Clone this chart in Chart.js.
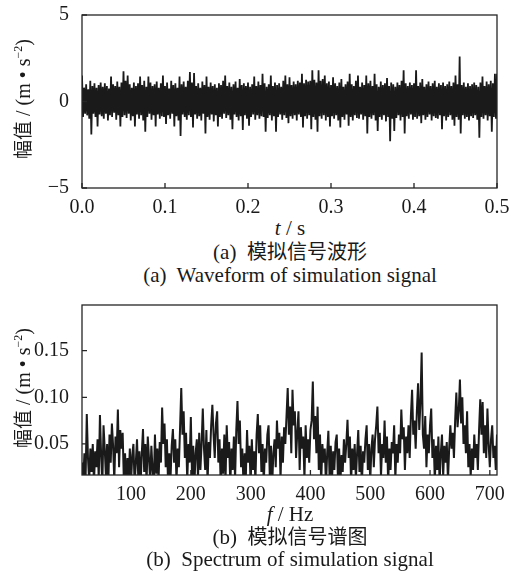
<!DOCTYPE html>
<html>
<head>
<meta charset="utf-8">
<script src="https://cdn.jsdelivr.net/npm/chart.js@4.4.1/dist/chart.umd.min.js"></script>
<style>
    body { margin: 0; background: #fff; }
    #page { position: relative; width: 521px; height: 583px; overflow: hidden;
            font-family: "Liberation Serif", "Noto Sans CJK SC", serif; color: #1a1a1a; }
    canvas { position: absolute; left: 0; }
    .txt { position: absolute; left: 290px; transform: translate(-50%, -50%);
           white-space: nowrap; font-size: 21px; line-height: 1; }
    .cn { font-family: "Noto Sans CJK SC", sans-serif; font-size: 20px; }
    .ylab { position: absolute; left: 22px; transform: translate(-50%, -50%) rotate(-90deg);
            white-space: nowrap; font-size: 20px; line-height: 1; }
    .ylab .cn { font-size: 19px; }
    .ylab sup { font-size: 12px; vertical-align: 8px; line-height: 0; }
</style>
</head>
<body>
<div id="page">
    <canvas id="waveChart" width="521" height="215" style="top:0px"></canvas>
    <canvas id="specChart" width="521" height="215" style="top:290px"></canvas>

    <div class="ylab" style="top:99px"><span class="cn">幅值</span> / (m • s<sup>−2</sup>)</div>
    <div class="txt" style="top:228px"><i>t</i> / s</div>
    <div class="txt" style="top:252px">(a)&nbsp; <span class="cn">模拟信号波形</span></div>
    <div class="txt" style="top:275px">(a)&nbsp; Waveform of simulation signal</div>

    <div class="ylab" style="top:388px"><span class="cn">幅值</span> / (m • s<sup>−2</sup>)</div>
    <div class="txt" style="top:514px"><i>f</i> / Hz</div>
    <div class="txt" style="top:537px">(b)&nbsp; <span class="cn">模拟信号谱图</span></div>
    <div class="txt" style="top:559px">(b)&nbsp; Spectrum of simulation signal</div>
</div>

<script>
// ---------------------------------------------------------------
// Data
// ---------------------------------------------------------------
const waveStep = 0.00125;          // s per sample
const waveTicks = [0, 0.1, 0.2, 0.3, 0.4, 0.5];
const waveAmpTicks = [-5, 0, 5];
const waveAmpLabels = ['−5', '0', '5'];

const waveValues = [
    1.5, -0.9, 0.8, -0.7, 1.0, -0.8, 0.7, -1.0, 1.2, -1.9, 0.9, -0.7, 1.05, -0.9, 0.8, -1.45, 0.95, -0.75, 1.1, -0.85,
    0.85, -1.0, 1.05, -0.7, 0.9, -1.1, 0.75, -0.8, 1.45, -0.9, 1.0, -0.65, 0.9, -1.05, 1.15, -0.8, 0.85, -1.45, 1.1, -0.9,
    1.75, -0.8, 1.2, -0.95, 1.5, -0.7, 1.0, -1.1, 0.8, -0.85, 1.1, -1.45, 0.9, -0.75, 1.05, -1.0, 1.45, -0.8, 0.95, -1.1,
    1.2, -1.75, 0.85, -0.9, 1.45, -0.7, 1.1, -1.05, 0.9, -0.8, 1.0, -1.45, 1.15, -0.75, 0.8, -1.0, 1.05, -0.85, 1.5, -0.9,
    0.9, -1.3, 1.1, -0.8, 0.75, -1.0, 1.2, -0.7, 0.95, -1.45, 1.05, -0.85, 0.8, -1.1, 1.45, -2.0, 1.0, -0.75, 1.15, -0.9,
    0.85, -1.05, 1.2, -0.8, 1.7, -0.9, 1.1, -1.5, 1.65, -0.75, 0.9, -1.0, 1.05, -0.85, 0.8, -1.1, 1.15, -0.7, 0.95, -1.85,
    1.45, -0.9, 0.85, -1.05, 1.1, -0.75, 0.9, -1.15, 1.0, -0.8, 0.8, -1.45, 1.05, -0.9, 0.95, -1.0, 1.2, -0.7, 1.5, -0.95,
    0.9, -0.8, 1.1, -1.05, 0.85, -1.6, 1.0, -0.75, 1.15, -0.9, 0.8, -1.1, 1.3, -0.85, 0.95, -1.65, 1.05, -0.8, 0.9, -1.0,
    1.1, -1.4, 0.85, -0.9, 1.0, -0.75, 1.45, -1.05, 0.9, -0.8, 1.15, -1.0, 0.95, -0.85, 1.6, -0.9, 1.05, -1.75, 0.85, -0.95,
    1.0, -0.8, 1.5, -1.1, 0.9, -0.85, 1.1, -1.75, 0.95, -0.9, 1.05, -0.75, 0.85, -1.05, 1.2, -0.8, 1.5, -0.95, 1.0, -1.25,
    1.4, -0.85, 0.95, -1.0, 1.15, -0.8, 1.0, -1.1, 1.2, -0.75, 1.1, -0.9, 1.6, -1.5, 1.05, -0.85, 1.25, -1.0, 1.15, -0.8,
    1.2, -1.6, 1.8, -0.9, 1.25, -1.05, 1.1, -1.75, 1.8, -0.85, 1.2, -1.0, 1.3, -0.8, 1.5, -1.1, 1.05, -0.9, 1.15, -1.45,
    0.95, -0.85, 1.4, -1.0, 1.05, -0.8, 0.9, -1.1, 1.1, -1.5, 1.3, -0.9, 0.85, -1.05, 1.0, -0.75, 1.15, -1.4, 1.6, -0.9,
    1.0, -1.1, 0.9, -0.8, 1.2, -0.95, 1.5, -1.0, 0.85, -0.75, 1.1, -1.05, 0.95, -0.85, 1.5, -1.85, 1.05, -0.9, 1.2, -1.0,
    0.9, -0.8, 1.6, -1.1, 1.0, -1.7, 0.85, -0.9, 1.15, -1.05, 0.95, -0.8, 1.05, -1.15, 1.35, -0.9, 0.9, -2.3, 1.1, -1.0,
    1.0, -1.7, 0.85, -0.95, 1.1, -0.8, 0.95, -1.1, 1.2, -0.9, 1.8, -1.85, 1.05, -0.85, 0.9, -1.0, 1.1, -0.75, 0.95, -1.05,
    1.05, -0.9, 1.8, -1.0, 0.9, -0.85, 1.1, -1.25, 1.3, -0.8, 0.85, -1.05, 1.0, -0.9, 1.15, -0.75, 0.9, -1.1, 1.05, -0.85,
    1.2, -0.95, 0.85, -1.0, 1.05, -0.8, 0.95, -1.6, 1.1, -0.85, 0.9, -1.1, 1.0, -0.9, 1.15, -0.8, 0.9, -1.05, 1.1, -1.4,
    1.5, -0.9, 1.0, -1.05, 2.6, -1.85, 0.95, -0.8, 1.1, -1.0, 0.85, -0.9, 1.05, -1.1, 0.9, -0.85, 1.0, -0.95, 1.1, -0.8,
    0.95, -1.05, 0.85, -2.1, 1.1, -0.9, 1.45, -1.0, 0.9, -0.8, 1.15, -1.1, 1.0, -0.85, 1.2, -1.75, 1.05, -0.9, 1.6, -1.0,
    1.6
];

const specStart = 18;              // Hz, first bin shown
const specStep = 2;                // Hz per bin
const specTicks = [100, 200, 300, 400, 500, 600, 700];
const specAmpTicks = [0.05, 0.10, 0.15];

const specValues = [
    0.030, 0.008, 0.040, 0.012, 0.082, 0.035, 0.010, 0.045, 0.020, 0.050,
    0.008, 0.042, 0.025, 0.055, 0.012, 0.081, 0.038, 0.005, 0.070, 0.045,
    0.015, 0.050, 0.006, 0.060, 0.030, 0.072, 0.048, 0.010, 0.058, 0.040,
    0.087, 0.025, 0.065, 0.045, 0.062, 0.010, 0.040, 0.004, 0.035, 0.012,
    0.045, 0.008, 0.038, 0.050, 0.005, 0.030, 0.055, 0.015, 0.042, 0.006,
    0.040, 0.066, 0.020, 0.050, 0.008, 0.058, 0.035, 0.010, 0.048, 0.022,
    0.006, 0.060, 0.018, 0.045, 0.010, 0.052, 0.030, 0.089, 0.050, 0.072,
    0.025, 0.055, 0.005, 0.040, 0.012, 0.048, 0.066, 0.030, 0.055, 0.010,
    0.045, 0.025, 0.068, 0.110, 0.060, 0.085, 0.035, 0.062, 0.010, 0.050,
    0.030, 0.079, 0.015, 0.048, 0.006, 0.040, 0.055, 0.012, 0.062, 0.022,
    0.050, 0.088, 0.045, 0.022, 0.065, 0.008, 0.052, 0.035, 0.070, 0.092,
    0.060, 0.035, 0.072, 0.085, 0.030, 0.055, 0.005, 0.045, 0.018, 0.060,
    0.010, 0.070, 0.035, 0.052, 0.006, 0.045, 0.022, 0.058, 0.012, 0.065,
    0.096, 0.050, 0.075, 0.025, 0.045, 0.008, 0.040, 0.015, 0.065, 0.030,
    0.048, 0.006, 0.055, 0.022, 0.042, 0.010, 0.060, 0.082, 0.040, 0.070,
    0.020, 0.050, 0.008, 0.045, 0.030, 0.060, 0.070, 0.015, 0.048, 0.005,
    0.040, 0.055, 0.025, 0.075, 0.045, 0.062, 0.012, 0.058, 0.030, 0.068,
    0.050, 0.080, 0.110, 0.060, 0.090, 0.040, 0.108, 0.070, 0.085, 0.035,
    0.062, 0.085, 0.022, 0.068, 0.045, 0.058, 0.012, 0.070, 0.035, 0.055,
    0.030, 0.065, 0.075, 0.117, 0.055, 0.080, 0.040, 0.090, 0.022, 0.060,
    0.008, 0.050, 0.030, 0.045, 0.005, 0.040, 0.064, 0.015, 0.048, 0.010,
    0.042, 0.022, 0.052, 0.060, 0.012, 0.045, 0.006, 0.038, 0.020, 0.055,
    0.030, 0.050, 0.076, 0.035, 0.058, 0.008, 0.045, 0.022, 0.050, 0.012,
    0.040, 0.065, 0.020, 0.048, 0.005, 0.042, 0.030, 0.055, 0.070, 0.022,
    0.050, 0.010, 0.045, 0.060, 0.025, 0.055, 0.070, 0.090, 0.040, 0.062,
    0.015, 0.050, 0.035, 0.075, 0.030, 0.058, 0.008, 0.045, 0.022, 0.052,
    0.040, 0.070, 0.012, 0.050, 0.030, 0.060, 0.040, 0.087, 0.055, 0.068,
    0.022, 0.058, 0.040, 0.070, 0.035, 0.080, 0.108, 0.060, 0.075, 0.045,
    0.085, 0.115, 0.065, 0.095, 0.148, 0.060, 0.045, 0.080, 0.025, 0.060,
    0.040, 0.070, 0.088, 0.035, 0.055, 0.010, 0.048, 0.022, 0.058, 0.008,
    0.040, 0.060, 0.015, 0.048, 0.030, 0.052, 0.010, 0.045, 0.070, 0.045,
    0.062, 0.035, 0.075, 0.105, 0.068, 0.085, 0.119, 0.072, 0.100, 0.050,
    0.070, 0.040, 0.085, 0.025, 0.050, 0.015, 0.045, 0.022, 0.060, 0.035,
    0.050, 0.022, 0.065, 0.098, 0.060, 0.095, 0.040, 0.070, 0.035, 0.088,
    0.050, 0.025, 0.055, 0.070, 0.035, 0.048, 0.022, 0.060
];

// ---------------------------------------------------------------
// Shared styling
// ---------------------------------------------------------------
const ink = '#1a1a1a';
const tickFont = { family: "'Liberation Serif', serif", size: 20, lineHeight: 1 };

// box around the plot area + short inward tick marks
const framePlugin = {
    id: 'frame',
    afterDatasetsDraw(chart) {
        const { ctx, chartArea: a, scales } = chart;
        ctx.save();
        ctx.strokeStyle = '#262626';
        ctx.lineWidth = 1.3;
        ctx.strokeRect(a.left, a.top, a.right - a.left, a.bottom - a.top);
        ctx.beginPath();
        scales.x.ticks.forEach(t => {
            const px = scales.x.getPixelForValue(t.value);
            ctx.moveTo(px, a.bottom);
            ctx.lineTo(px, a.bottom - 5);
        });
        scales.y.ticks.forEach(t => {
            const py = scales.y.getPixelForValue(t.value);
            ctx.moveTo(a.left, py);
            ctx.lineTo(a.left + 5, py);
        });
        ctx.stroke();
        ctx.restore();
    }
};

function makeOptions(x, y, xAxisHeight) {
    return {
        responsive: false,
        animation: false,
        events: [],
        layout: { padding: { top: 10, right: 24, left: 0, bottom: 0 } },
        plugins: { legend: { display: false }, tooltip: { enabled: false } },
        elements: { point: { radius: 0 } },
        scales: {
            x: {
                type: 'linear',
                min: x.min, max: x.max,
                grid: { display: false },
                border: { display: false },
                afterBuildTicks: s => { s.ticks = x.ticks.map(v => ({ value: v })); },
                afterFit: s => { s.height = xAxisHeight; },
                ticks: { color: ink, font: tickFont, padding: 2, maxRotation: 0, callback: x.label }
            },
            y: {
                min: y.min, max: y.max,
                grid: { display: false },
                border: { display: false },
                afterBuildTicks: s => { s.ticks = y.ticks.map(v => ({ value: v })); },
                afterFit: s => { s.width = 82; },
                ticks: { color: ink, font: tickFont, padding: 5, callback: y.label }
            }
        }
    };
}

// ---------------------------------------------------------------
// (a) Waveform
// ---------------------------------------------------------------
new Chart(document.getElementById('waveChart'), {
    type: 'line',
    data: {
        datasets: [{
            data: waveValues.map((v, i) => ({ x: i * waveStep, y: v })),
            borderColor: ink,
            borderWidth: 1.8,
            tension: 0
        }]
    },
    options: makeOptions(
        { min: 0, max: 0.5, ticks: waveTicks, label: v => v.toFixed(1) },
        { min: -5, max: 5, ticks: waveAmpTicks, label: (v, i) => waveAmpLabels[i] },
        27
    ),
    plugins: [framePlugin]
});

// ---------------------------------------------------------------
// (b) Spectrum
// ---------------------------------------------------------------
new Chart(document.getElementById('specChart'), {
    type: 'line',
    data: {
        datasets: [{
            data: specValues.map((v, i) => ({ x: specStart + i * specStep, y: v })),
            borderColor: ink,
            borderWidth: 2.0,
            tension: 0
        }]
    },
    options: makeOptions(
        { min: 18, max: 712, ticks: specTicks, label: v => String(v) },
        { min: 0.0167, max: 0.199, ticks: specAmpTicks, label: v => v.toFixed(2) },
        30
    ),
    plugins: [framePlugin]
});
</script>
</body>
</html>
